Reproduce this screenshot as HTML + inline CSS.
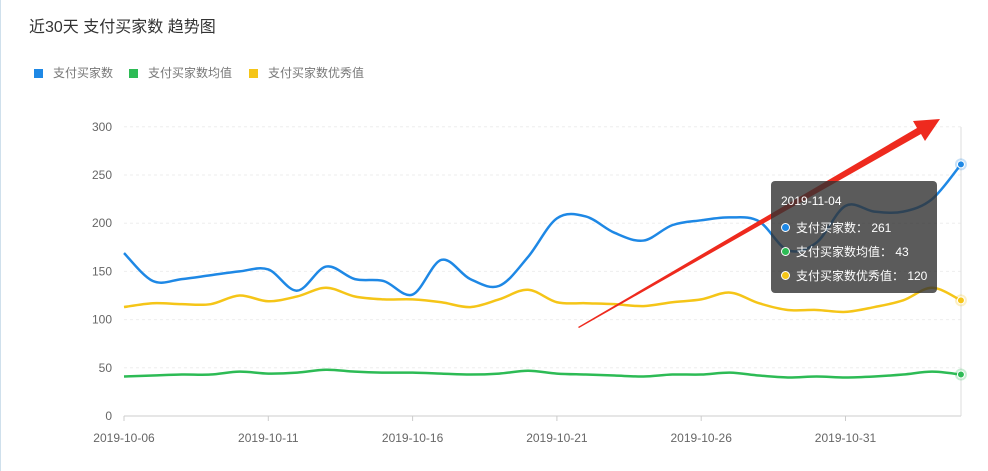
<!DOCTYPE html>
<html><head><meta charset="utf-8"><style>
body{margin:0;background:#fff;width:988px;height:471px;overflow:hidden;font-family:"Liberation Sans","Noto Sans CJK SC",sans-serif;}
#wrap{position:relative;width:988px;height:471px;border-left:1px solid #cfe0ec;box-sizing:border-box}
.title{position:absolute;left:28px;top:13px;font-size:16px;color:#333}
.leg{position:absolute;top:64px;font-size:12px;color:#777}
.leg i{display:inline-block;width:9px;height:9px;margin-right:10px;vertical-align:-1px}
.tip{position:absolute;left:770px;top:181px;width:166px;height:112px;background:rgba(50,50,50,0.8);border-radius:4px;color:#fff;font-size:12px}
.tip div{position:absolute;left:10px;white-space:nowrap}
.tip b{display:inline-block;width:7px;height:7px;border-radius:50%;border:1px solid #fff;margin-right:6px;vertical-align:0}
</style></head><body><div id="wrap">
<div class="title">近30天 支付买家数 趋势图</div>
<div class="leg" style="left:33px"><i style="background:#1e88e5"></i>支付买家数</div>
<div class="leg" style="left:128px"><i style="background:#2dbb55"></i>支付买家数均值</div>
<div class="leg" style="left:248px"><i style="background:#f5c518"></i>支付买家数优秀值</div>
<svg id="s" width="988" height="471" style="position:absolute;left:0;top:0"></svg>
<div class="tip">
<div style="top:13px">2019-11-04</div>
<div style="top:38px"><b style="background:#1e88e5"></b>支付买家数： 261</div>
<div style="top:62px"><b style="background:#2dbb55"></b>支付买家数均值： 43</div>
<div style="top:86px"><b style="background:#f5c518"></b>支付买家数优秀值： 120</div>
</div>
</div>
<script>
var s=document.getElementById('s'),h='';
var X=function(i){return 123+i*28.86},Y=function(v){return 416-v*0.964};
for(var k=0;k<=6;k++){var y=Y(k*50);
h+='<line x1="123" x2="960" y1="'+y+'" y2="'+y+'" stroke="'+(k?'#eee':'#ccc')+'" '+(k?'stroke-dasharray="3,3"':'')+'/>';
h+='<text x="111" y="'+(y+4)+'" font-size="12" fill="#666" text-anchor="end" font-family="Liberation Sans">'+k*50+'</text>';}
h+='<line x1="960" x2="960" y1="127" y2="416" stroke="#ddd"/>';
var lab=['2019-10-06','2019-10-11','2019-10-16','2019-10-21','2019-10-26','2019-10-31'];
for(var j=0;j<6;j++){var x=X(j*5);h+='<line x1="'+x+'" x2="'+x+'" y1="416" y2="421" stroke="#ccc"/><text x="'+x+'" y="442" font-size="12" fill="#666" text-anchor="middle" font-family="Liberation Sans">'+lab[j]+'</text>';}
function path(d){var p=d.map(function(v,i){return [X(i),Y(v)]});var r='M'+p[0];
for(var i=0;i<p.length-1;i++){var a=p[i-1]||p[i],b=p[i],c=p[i+1],e=p[i+2]||c;
r+=' C'+(b[0]+(c[0]-a[0])/6)+','+(b[1]+(c[1]-a[1])/6)+' '+(c[0]-(e[0]-b[0])/6)+','+(c[1]-(e[1]-b[1])/6)+' '+c[0]+','+c[1];}return r;}
var B=[169,140,142,146,150,152,130,155,142,140,126,162,142,135,165,205,207,190,182,198,203,206,202,172,180,218,212,212,225,261];
var Yl=[113,117,116,116,125,119,124,133,124,121,121,118,113,121,131,118,117,116,114,118,121,128,117,110,110,108,113,120,133,120];
var G=[41,42,43,43,46,44,45,48,46,45,45,44,43,44,47,44,43,42,41,43,43,45,42,40,41,40,41,43,46,43];
[[G,'#2dbb55'],[Yl,'#f5c518'],[B,'#1e88e5']].forEach(function(q){
h+='<path d="'+path(q[0])+'" fill="none" stroke="'+q[1]+'" stroke-width="2.5"/>';
var v=q[0][29];h+='<circle cx="'+X(29)+'" cy="'+Y(v)+'" r="6" fill="'+q[1]+'" opacity="0.25"/><circle cx="'+X(29)+'" cy="'+Y(v)+'" r="3.5" fill="'+q[1]+'" stroke="#fff" stroke-width="1"/>';});
h+='<polygon points="577,327 916,128 912,121 939,119 924,141 920,134 578,328" fill="#ee2a1e"/>';
s.innerHTML=h;
</script>
</body></html>
